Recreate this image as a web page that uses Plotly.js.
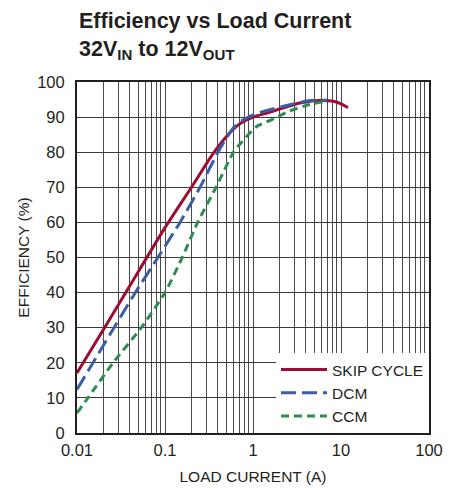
<!DOCTYPE html>
<html>
<head>
<meta charset="utf-8">
<script src="https://cdn.plot.ly/plotly-3.0.1.min.js"></script>
<style>html,body{margin:0;padding:0;background:#fff;}#chart{width:458px;height:490px;}</style>
</head>
<body>
<div id="chart"></div>
<script>
// Data
const seriesNames = ["SKIP CYCLE", "DCM", "CCM"];

const skipX = [0.01, 0.02, 0.04, 0.1, 0.2, 0.35, 0.5, 0.7, 1.0, 1.5, 2.0, 3.4, 5.6, 8.2, 10, 12];
const skipY = [17.1, 29.5, 42, 58.5, 70, 79.5, 84.5, 88, 90.0, 91.3, 92.3, 94.0, 94.7, 94.5, 93.8, 92.7];

const dcmX = [0.01, 0.02, 0.046, 0.083, 0.148, 0.25, 0.4, 0.6, 0.75, 1.1, 2.7, 4.5, 7];
const dcmY = [12.4, 25, 40, 50, 60, 70, 80, 87, 89, 91, 93.6, 94.7, 94.8];

const ccmX = [0.01, 0.0133, 0.0257, 0.0537, 0.1, 0.157, 0.235, 0.38, 0.6, 0.75, 1.1, 1.55, 2.6, 4.4, 6.5];
const ccmY = [5.7, 10, 20, 30, 40, 50, 60, 70, 80, 83, 87.3, 89, 91.7, 93.6, 94.5];

const xTickVals = [0.01, 0.1, 1, 10, 100];
const xTickText = ["0.01", "0.1", "1", "10", "100"];
const yTickVals = [0, 10, 20, 30, 40, 50, 60, 70, 80, 90, 100];

const FONT = '"Liberation Sans", Arial, sans-serif';
const INK = '#231f20';

const traces = [
  {x: skipX, y: skipY, name: seriesNames[0], mode: 'lines',
   line: {color: '#9c0c33', width: 3, shape: 'spline', smoothing: 0.6}},
  {x: dcmX, y: dcmY, name: seriesNames[1], mode: 'lines',
   line: {color: '#3d5ca8', width: 3, dash: '15px,6px', shape: 'spline', smoothing: 0.6}},
  {x: ccmX, y: ccmY, name: seriesNames[2], mode: 'lines',
   line: {color: '#2f8c50', width: 3, dash: '8px,5px', shape: 'spline', smoothing: 0.6}}
];

const layout = {
  width: 458, height: 490,
  margin: {l: 77, r: 29, t: 82, b: 57},
  paper_bgcolor: '#fff', plot_bgcolor: '#fff',
  font: {family: FONT, size: 16.5, color: INK},
  showlegend: true,
  legend: {x: 1, xanchor: 'right', y: 0, yanchor: 'bottom', bgcolor: '#fff', borderwidth: 0,
           font: {family: FONT, size: 15.5, color: INK}, itemwidth: 46, tracegroupgap: 0},
  xaxis: {
    type: 'log', range: [-2, 2],
    tickvals: xTickVals, ticktext: xTickText,
    ticks: '', ticklabelstandoff: 1,
    showgrid: true, gridcolor: '#4a4a4a', gridwidth: 1,
    minor: {dtick: 'D1', showgrid: true, gridcolor: '#4a4a4a', gridwidth: 1, ticks: ''},
    showline: true, linecolor: INK, linewidth: 2, mirror: true,
    zeroline: false,
    title: {text: 'LOAD CURRENT (A)', font: {family: FONT, size: 15.5}, standoff: 13}
  },
  yaxis: {
    range: [0, 100], tickvals: yTickVals,
    ticks: '', ticklabelstandoff: 7,
    showgrid: true, gridcolor: '#3a3a3a', gridwidth: 1,
    showline: true, linecolor: INK, linewidth: 2, mirror: true,
    zeroline: false,
    title: {text: 'EFFICIENCY (%)', font: {family: FONT, size: 15.5}, standoff: 4}
  },
  annotations: [
    {text: '<b>Efficiency vs Load Current<br>32V<sub>IN</sub> to 12V<sub>OUT</sub></b>',
     xref: 'paper', yref: 'paper', x: 0, y: 1,
     xanchor: 'left', yanchor: 'top', yshift: 75, showarrow: false, align: 'left',
     font: {family: FONT, size: 21.5, color: INK}}
  ]
};

Plotly.newPlot('chart', traces, layout, {displayModeBar: false, staticPlot: true});
</script>
</body>
</html>
